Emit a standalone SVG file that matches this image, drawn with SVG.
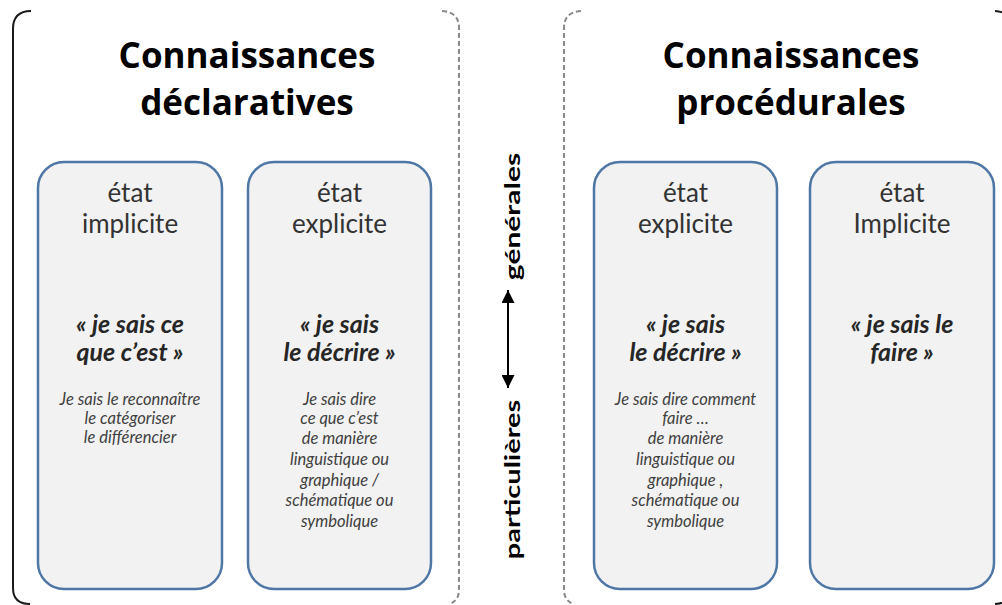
<svg xmlns="http://www.w3.org/2000/svg" width="1002" height="605" viewBox="0 0 1002 605">
<defs>
<style>
.solid{fill:none;stroke:#1a1a1a;stroke-width:2}
.dash{fill:none;stroke:#8a8a8a;stroke-width:2;stroke-dasharray:5 3}
.box{fill:#f2f2f2;stroke:#4f77a6;stroke-width:2.5}
.title{font-family:"Open Sans",Lato,"Liberation Sans",sans-serif;font-weight:700;font-size:35px;fill:#000;text-anchor:middle}
.state{font-family:Lato,"Liberation Sans",sans-serif;font-size:26px;fill:#333;text-anchor:middle}
.quote{font-family:Lato,"Liberation Sans",sans-serif;font-weight:700;font-style:italic;font-size:25px;fill:#262626;text-anchor:middle}
.small{font-family:Lato,"Liberation Sans",sans-serif;font-style:italic;font-size:16.5px;fill:#404040;text-anchor:middle}
.vert{font-family:Lato,"Liberation Sans",sans-serif;font-weight:700;font-size:20px;fill:#000;text-anchor:middle}
</style>
<marker id="ah" viewBox="0 0 13 13" refX="13" refY="6.5" markerWidth="13" markerHeight="13" markerUnits="userSpaceOnUse" orient="auto-start-reverse">
<path d="M0,0 L13,6.5 L0,13 z" fill="#000"/>
</marker>
</defs>

<g id="frame-declaratives">
<path class="solid" d="M31 11 Q13 11 13 29 L13 588 Q13 604 30 604"/>
<path class="dash" d="M442 11 Q459 12 459 28 L459 590 Q459 600 450 604"/>
<text class="title" x="247" y="68">Connaissances</text>
<text class="title" x="247" y="115">déclaratives</text>
</g>

<g id="frame-procedurales">
<path class="dash" d="M581 11 Q564 12 564 28 L564 590 Q564 600 573 604"/>
<path class="solid" d="M995 11 Q1012 12 1012 28 L1012 590 Q1012 603 995 604"/>
<text class="title" x="791" y="68">Connaissances</text>
<text class="title" x="791" y="115">procédurales</text>
</g>

<g id="box-decl-implicite">
<rect class="box" x="38" y="162" width="184" height="427" rx="26"/>
<text class="state" x="130" y="202">état</text>
<text class="state" x="130" y="233">implicite</text>
<text class="quote" x="130" y="333">« je sais ce</text>
<text class="quote" x="130" y="361">que c’est »</text>
<text class="small" x="130" y="405">Je sais le reconnaître</text>
<text class="small" x="130" y="424">le catégoriser</text>
<text class="small" x="130" y="443">le différencier</text>
</g>

<g id="box-decl-explicite">
<rect class="box" x="248" y="162" width="183" height="427" rx="26"/>
<text class="state" x="339.5" y="202">état</text>
<text class="state" x="339.5" y="233">explicite</text>
<text class="quote" x="339.5" y="333">« je sais</text>
<text class="quote" x="339.5" y="361">le décrire »</text>
<text class="small" x="339.5" y="405">Je sais dire</text>
<text class="small" x="339.5" y="424">ce que c’est</text>
<text class="small" x="339.5" y="444">de manière</text>
<text class="small" x="339.5" y="465">linguistique ou</text>
<text class="small" x="339.5" y="486">graphique /</text>
<text class="small" x="339.5" y="506">schématique ou</text>
<text class="small" x="339.5" y="527">symbolique</text>
</g>

<g id="box-proc-explicite">
<rect class="box" x="594" y="162" width="183" height="427" rx="26"/>
<text class="state" x="685.5" y="202">état</text>
<text class="state" x="685.5" y="233">explicite</text>
<text class="quote" x="685.5" y="333">« je sais</text>
<text class="quote" x="685.5" y="361">le décrire »</text>
<text class="small" x="685.5" y="405">Je sais dire comment</text>
<text class="small" x="685.5" y="424">faire …</text>
<text class="small" x="685.5" y="444">de manière</text>
<text class="small" x="685.5" y="465">linguistique ou</text>
<text class="small" x="685.5" y="486">graphique ,</text>
<text class="small" x="685.5" y="506">schématique ou</text>
<text class="small" x="685.5" y="527">symbolique</text>
</g>

<g id="box-proc-implicite">
<rect class="box" x="810" y="162" width="184" height="427" rx="26"/>
<text class="state" x="902" y="202">état</text>
<text class="state" x="902" y="233">Implicite</text>
<text class="quote" x="902" y="333">« je sais le</text>
<text class="quote" x="902" y="361">faire »</text>
</g>

<g id="label-generales">
<text class="vert" transform="translate(520,216.5) rotate(-90) scale(1.5,1)">générales</text>
</g>
<g id="label-particulieres">
<text class="vert" transform="translate(520,479.5) rotate(-90) scale(1.45,1)">particulières</text>
</g>

<g id="connectors">
<line x1="508" y1="290" x2="508" y2="388" stroke="#000" stroke-width="2" marker-start="url(#ah)" marker-end="url(#ah)"/>
</g>
</svg>
